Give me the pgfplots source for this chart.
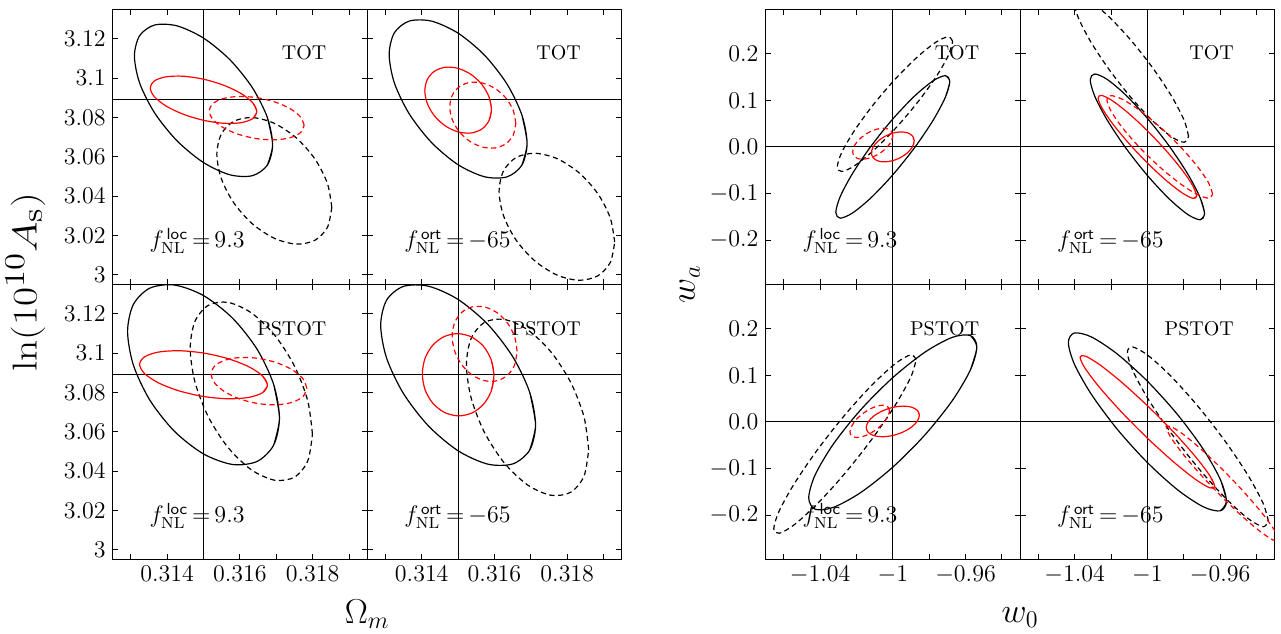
\documentclass[border=0pt]{standalone}
\usepackage{pgfplots}
\pgfplotsset{compat=1.18}
\definecolor{rd}{RGB}{255,0,0}
\pgfplotsset{
  panel/.style={scale only axis, width=127.3pt, height=137.5pt, anchor=south west,
    scaled ticks=false, major tick length=2.8pt,
    axis line style={line width=0.6pt},
    every tick/.style={black, line width=0.5pt},
    tick label style={font=\fontsize{12}{14}\selectfont}},
  lgrp/.style={panel, xmin=0.3125, xmax=0.3195, ymin=2.995, ymax=3.135,
    xtick={0.313,0.314,0.315,0.316,0.317,0.318,0.319},
    xticklabels={,$0.314$,,$0.316$,,$0.318$,},
    ytick={3,3.02,3.04,3.06,3.08,3.1,3.12},
    yticklabels={$3$,$3.02$,$3.04$,$3.06$,$3.08$,$3.1$,$3.12$}},
  rgrp/.style={panel, xmin=-1.07, xmax=-0.93, ymin=-0.295, ymax=0.295,
    xtick={-1.06,-1.04,-1.02,-1,-0.98,-0.96,-0.94},
    xticklabels={,$-1.04$,,$-1$,,$-0.96$,},
    ytick={-0.2,-0.1,0,0.1,0.2},
    yticklabels={$-0.2$,$-0.1$,$0.0$,$0.1$,$0.2$}},
  noxl/.style={xticklabels={}},
  noyl/.style={yticklabels={}},
  el/.style={smooth, line width=0.6pt, line join=round},
  bs/.style={el, black},
  bd/.style={el, black, dash pattern=on 2.6pt off 1.8pt},
  rs/.style={el, rd},
  rdd/.style={el, rd, dash pattern=on 2.6pt off 1.8pt},
  fid/.style={black, line width=0.5pt},
}
\newcommand{\ptext}[2]{%
  \node[anchor=base east, inner sep=0pt, font=\fontsize{10}{12}\selectfont] at (rel axis cs:0.841,0.816) {#1};
  \node[anchor=base west, inner sep=0pt, font=\fontsize{12}{14}\selectfont] at (rel axis cs:0.144,0.133) {#2};}
\newcommand{\floc}{$f_{\mathrm{NL}}^{\,\mathsf{loc}}\,{=}\,9.3$}
\newcommand{\fort}{$f_{\mathrm{NL}}^{\,\mathsf{ort}}\,{=}\,{-}65$}
\begin{document}
\begin{tikzpicture}
\path[use as bounding box] (0,0) rectangle (640.5pt,316.5pt);

% ---------------- left group: Omega_m vs ln(10^10 A_s) ----------------
\begin{axis}[lgrp, noxl, at={(56.3pt,174.3pt)}]
\addplot[fid] coordinates {(0.315,2.9)(0.315,3.2)};
\addplot[fid] coordinates {(0.31,3.089)(0.32,3.089)};
\addplot[bs] coordinates {(0.316755,3.05573)(0.3169,3.06614)(0.316755,3.07998)(0.316343,3.09515)(0.315727,3.10934)(0.315,3.12039)(0.314273,3.12661)(0.313657,3.12706)(0.313245,3.12167)(0.3131,3.11126)(0.313245,3.09742)(0.313657,3.08225)(0.314273,3.06806)(0.315,3.05701)(0.315727,3.05079)(0.316343,3.05034)(0.316755,3.05573)(0.3169,3.06614)(0.316755,3.07998)};
\addplot[bd] coordinates {(0.318526,3.03419)(0.318406,3.04642)(0.318063,3.05885)(0.317551,3.06959)(0.316946,3.077)(0.316341,3.07995)(0.315829,3.078)(0.315486,3.07144)(0.315366,3.06128)(0.315486,3.04904)(0.315829,3.03661)(0.316341,3.02587)(0.316946,3.01846)(0.317551,3.01551)(0.318063,3.01746)(0.318406,3.02402)(0.318526,3.03419)};
\addplot[rs] coordinates {(0.316354,3.07942)(0.316465,3.08296)(0.316354,3.08742)(0.316036,3.09213)(0.315561,3.09635)(0.315,3.09946)(0.314439,3.10098)(0.313964,3.10067)(0.313646,3.09858)(0.313535,3.09504)(0.313646,3.09058)(0.313964,3.08587)(0.314439,3.08165)(0.315,3.07854)(0.315561,3.07702)(0.316036,3.07733)(0.316354,3.07942)(0.316465,3.08296)(0.316354,3.08742)};
\addplot[rdd] coordinates {(0.317766,3.07599)(0.317667,3.08026)(0.317384,3.08444)(0.31696,3.08789)(0.316461,3.09008)(0.315962,3.09068)(0.315538,3.0896)(0.315255,3.08701)(0.315156,3.08329)(0.315255,3.07902)(0.315538,3.07484)(0.315962,3.07139)(0.316461,3.0692)(0.31696,3.0686)(0.317384,3.06968)(0.317667,3.07227)(0.317766,3.07599)};
\ptext{TOT}{\floc}
\end{axis}

\begin{axis}[lgrp, noxl, noyl, at={(183.6pt,174.3pt)}]
\addplot[fid] coordinates {(0.315,2.9)(0.315,3.2)};
\addplot[fid] coordinates {(0.31,3.089)(0.32,3.089)};
\addplot[bs] coordinates {(0.316752,3.05567)(0.316896,3.06677)(0.316752,3.0813)(0.316341,3.09708)(0.315726,3.11168)(0.315,3.12289)(0.314274,3.129)(0.313659,3.12908)(0.313248,3.12313)(0.313104,3.11204)(0.313248,3.0975)(0.313659,3.08172)(0.314274,3.06712)(0.315,3.05591)(0.315726,3.0498)(0.316341,3.04972)(0.316752,3.05567)(0.316896,3.06677)(0.316752,3.0813)};
\addplot[bd] coordinates {(0.319304,3.01649)(0.319183,3.02882)(0.318839,3.04124)(0.318323,3.05186)(0.317715,3.05907)(0.317107,3.06177)(0.316591,3.05954)(0.316247,3.05273)(0.316126,3.04237)(0.316247,3.03004)(0.316591,3.01762)(0.317107,3.007)(0.317715,2.99979)(0.318323,2.99709)(0.318839,2.99933)(0.319183,3.00614)(0.319304,3.01649)};
\addplot[rs] coordinates {(0.315846,3.07825)(0.315916,3.08408)(0.315846,3.09063)(0.315648,3.0969)(0.315351,3.10194)(0.315,3.10498)(0.314649,3.10555)(0.314352,3.10357)(0.314154,3.09935)(0.314084,3.09352)(0.314154,3.08697)(0.314352,3.0807)(0.314649,3.07566)(0.315,3.07262)(0.315351,3.07205)(0.315648,3.07403)(0.315846,3.07825)(0.315916,3.08408)(0.315846,3.09063)};
\addplot[rdd] coordinates {(0.316585,3.07696)(0.316516,3.08352)(0.316319,3.08973)(0.316025,3.09463)(0.315678,3.09748)(0.315331,3.09786)(0.315037,3.09569)(0.31484,3.09131)(0.314771,3.08538)(0.31484,3.07882)(0.315037,3.07261)(0.315331,3.06771)(0.315678,3.06486)(0.316025,3.06449)(0.316319,3.06666)(0.316516,3.07104)(0.316585,3.07696)};
\ptext{TOT}{\fort}
\end{axis}

\begin{axis}[lgrp, at={(56.3pt,36.8pt)}]
\addplot[fid] coordinates {(0.315,2.9)(0.315,3.2)};
\addplot[fid] coordinates {(0.31,3.089)(0.32,3.089)};
\addplot[bs] coordinates {(0.316929,3.0532)(0.317088,3.06694)(0.316929,3.08405)(0.316476,3.10191)(0.315799,3.1178)(0.315,3.12931)(0.314201,3.13468)(0.313524,3.1331)(0.313071,3.1248)(0.312912,3.11106)(0.313071,3.09395)(0.313524,3.07609)(0.314201,3.0602)(0.315,3.04869)(0.315799,3.04332)(0.316476,3.0449)(0.316929,3.0532)(0.317088,3.06694)(0.316929,3.08405)};
\addplot[bd] coordinates {(0.317994,3.05873)(0.317866,3.07567)(0.317502,3.09337)(0.316957,3.10912)(0.316314,3.12052)(0.315671,3.12585)(0.315126,3.12428)(0.314762,3.11606)(0.314634,3.10243)(0.314762,3.08549)(0.315126,3.06779)(0.315671,3.05204)(0.316314,3.04064)(0.316957,3.03531)(0.317502,3.03688)(0.317866,3.0451)(0.317994,3.05873)};
\addplot[rs] coordinates {(0.316624,3.0799)(0.316758,3.08373)(0.316624,3.08837)(0.316243,3.0931)(0.315673,3.0972)(0.315,3.10006)(0.314327,3.10123)(0.313757,3.10054)(0.313376,3.0981)(0.313242,3.09427)(0.313376,3.08964)(0.313757,3.08491)(0.314327,3.0808)(0.315,3.07794)(0.315673,3.07677)(0.316243,3.07746)(0.316624,3.0799)(0.316758,3.08373)(0.316624,3.08837)};
\addplot[rdd] coordinates {(0.317839,3.08215)(0.317739,3.08683)(0.317454,3.09136)(0.317028,3.09503)(0.316525,3.09729)(0.316022,3.0978)(0.315596,3.09648)(0.315311,3.09353)(0.315211,3.08939)(0.315311,3.08471)(0.315596,3.08018)(0.316022,3.07651)(0.316525,3.07425)(0.317028,3.07374)(0.317454,3.07506)(0.317739,3.07801)(0.317839,3.08215)};
\ptext{PSTOT}{\floc}
\end{axis}

\begin{axis}[lgrp, noyl, at={(183.6pt,36.8pt)}]
\addplot[fid] coordinates {(0.315,2.9)(0.315,3.2)};
\addplot[fid] coordinates {(0.31,3.089)(0.32,3.089)};
\addplot[bs] coordinates {(0.316967,3.05063)(0.317129,3.06343)(0.316967,3.08011)(0.316505,3.0981)(0.315815,3.11468)(0.315,3.12732)(0.314185,3.13409)(0.313495,3.13398)(0.313033,3.12697)(0.312871,3.11417)(0.313033,3.09749)(0.313495,3.0795)(0.314185,3.06292)(0.315,3.05028)(0.315815,3.04351)(0.316505,3.04363)(0.316967,3.05063)(0.317129,3.06343)(0.316967,3.08011)};
\addplot[bd] coordinates {(0.318589,3.0508)(0.318461,3.06756)(0.318097,3.08506)(0.317552,3.10063)(0.316909,3.11191)(0.316266,3.11717)(0.315721,3.11562)(0.315357,3.10749)(0.315229,3.09402)(0.315357,3.07726)(0.315721,3.05976)(0.316266,3.04419)(0.316909,3.03291)(0.317552,3.02765)(0.318097,3.0292)(0.318461,3.03733)(0.318589,3.0508)};
\addplot[rs] coordinates {(0.315909,3.08061)(0.315984,3.08858)(0.315909,3.09662)(0.315696,3.1035)(0.315377,3.10817)(0.315,3.10993)(0.314623,3.10849)(0.314304,3.10409)(0.314091,3.0974)(0.314016,3.08942)(0.314091,3.08138)(0.314304,3.0745)(0.314623,3.06983)(0.315,3.06807)(0.315377,3.06951)(0.315696,3.07391)(0.315909,3.08061)(0.315984,3.08858)(0.315909,3.09662)};
\addplot[rdd] coordinates {(0.316621,3.10091)(0.316553,3.10838)(0.316359,3.1153)(0.31607,3.12061)(0.315728,3.1235)(0.315386,3.12354)(0.315097,3.12072)(0.314903,3.11546)(0.314835,3.10857)(0.314903,3.1011)(0.315097,3.09418)(0.315386,3.08887)(0.315728,3.08598)(0.31607,3.08594)(0.316359,3.08877)(0.316553,3.09402)(0.316621,3.10091)};
\ptext{PSTOT}{\fort}
\end{axis}

% ---------------- right group: w0 vs wa ----------------
\begin{axis}[rgrp, noxl, at={(382.75pt,174.3pt)}]
\addplot[fid] coordinates {(-1,-0.4)(-1,0.4)};
\addplot[fid] coordinates {(-1.1,0)(-0.9,0)};
\addplot[bs] coordinates {(-0.971045,0.10703)(-0.96866,0.140668)(-0.971045,0.1529)(-0.97784,0.141845)(-0.988006,0.109201)(-1,0.059922)(-1.011994,0.001529)(-1.02216,-0.057093)(-1.028955,-0.10703)(-1.03134,-0.140668)(-1.028955,-0.1529)(-1.02216,-0.141845)(-1.011994,-0.109201)(-1,-0.059922)(-0.988006,-0.001529)(-0.97784,0.057093)(-0.971045,0.10703)(-0.96866,0.140668)(-0.971045,0.1529)};
\addplot[bd] coordinates {(-0.96709,0.226278)(-0.969503,0.236386)(-0.976378,0.224471)(-0.986665,0.192369)(-0.9988,0.144955)(-1.010935,0.089443)(-1.021222,0.034293)(-1.028097,-0.012095)(-1.03051,-0.042678)(-1.028097,-0.052786)(-1.021222,-0.040871)(-1.010935,-0.008769)(-0.9988,0.038645)(-0.986665,0.094157)(-0.976378,0.149307)(-0.969503,0.195695)(-0.96709,0.226278)};
\addplot[rs] coordinates {(-0.989135,0.000607)(-0.98824,0.012856)(-0.989135,0.02315)(-0.991684,0.029919)(-0.9955,0.032137)(-1,0.029456)(-1.0045,0.022296)(-1.008316,0.011738)(-1.010865,-0.000607)(-1.01176,-0.012856)(-1.010865,-0.02315)(-1.008316,-0.029919)(-1.0045,-0.032137)(-1,-0.029456)(-0.9955,-0.022296)(-0.991684,-0.011738)(-0.989135,0.000607)(-0.98824,0.012856)(-0.989135,0.02315)};
\addplot[rdd] coordinates {(-1.0,0.024059)(-1.000839,0.0336)(-1.00323,0.03906)(-1.006809,0.039608)(-1.01103,0.035158)(-1.015251,0.026391)(-1.01883,0.014638)(-1.021221,0.001692)(-1.02206,-0.010479)(-1.021221,-0.02002)(-1.01883,-0.02548)(-1.015251,-0.026028)(-1.01103,-0.021578)(-1.006809,-0.012811)(-1.00323,-0.001058)(-1.000839,0.011888)(-1.0,0.024059)};
\ptext{TOT}{\floc}
\end{axis}

\begin{axis}[rgrp, noxl, noyl, at={(510.05pt,174.3pt)}]
\addplot[fid] coordinates {(-1,-0.4)(-1,0.4)};
\addplot[fid] coordinates {(-1.1,0)(-0.9,0)};
\addplot[bs] coordinates {(-0.970962,-0.1564)(-0.96857,-0.143888)(-0.970962,-0.10948)(-0.977776,-0.0584)(-0.987972,0.001564)(-1,0.061293)(-1.012028,0.111701)(-1.022224,0.145092)(-1.029038,0.1564)(-1.03143,0.143888)(-1.029038,0.10948)(-1.022224,0.0584)(-1.012028,-0.001564)(-1,-0.061293)(-0.987972,-0.111701)(-0.977776,-0.145092)(-0.970962,-0.1564)(-0.96857,-0.143888)(-0.970962,-0.10948)};
\addplot[bd] coordinates {(-0.97739,0.022512)(-0.979782,0.05692)(-0.986596,0.108)(-0.996792,0.167964)(-1.00882,0.227693)(-1.020848,0.278101)(-1.031044,0.311492)(-1.037858,0.3228)(-1.04025,0.310288)(-1.037858,0.27588)(-1.031044,0.2248)(-1.020848,0.164836)(-1.00882,0.105107)(-0.996792,0.054699)(-0.986596,0.021308)(-0.979782,0.01)(-0.97739,0.022512)};
\addplot[rs] coordinates {(-0.974953,-0.11039)(-0.97289,-0.105165)(-0.974953,-0.083933)(-0.98083,-0.049926)(-0.989625,-0.008325)(-1,0.034561)(-1.010375,0.072176)(-1.01917,0.0988)(-1.025047,0.11039)(-1.02711,0.105165)(-1.025047,0.083933)(-1.01917,0.049926)(-1.010375,0.008325)(-1,-0.034561)(-0.989625,-0.072176)(-0.98083,-0.0988)(-0.974953,-0.11039)(-0.97289,-0.105165)(-0.974953,-0.083933)};
\addplot[rdd] coordinates {(-0.96416,-0.1012)(-0.96637,-0.077)(-0.972666,-0.041074)(-0.982086,0.0011)(-0.9932,0.043109)(-1.004314,0.078562)(-1.013734,0.102047)(-1.02003,0.11)(-1.02224,0.1012)(-1.02003,0.077)(-1.013734,0.041074)(-1.004314,-0.0011)(-0.9932,-0.043109)(-0.982086,-0.078562)(-0.972666,-0.102047)(-0.96637,-0.11)(-0.96416,-0.1012)};
\ptext{TOT}{\fort}
\end{axis}

\begin{axis}[rgrp, at={(382.75pt,36.8pt)}]
\addplot[fid] coordinates {(-1,-0.4)(-1,0.4)};
\addplot[fid] coordinates {(-1.1,0)(-0.9,0)};
\addplot[bs] coordinates {(-0.957288,0.111788)(-0.95377,0.160852)(-0.957288,0.185299)(-0.96731,0.181366)(-0.982308,0.149673)(-1,0.095038)(-1.017692,0.0258)(-1.03269,-0.047542)(-1.042712,-0.113788)(-1.04623,-0.162852)(-1.042712,-0.187299)(-1.03269,-0.183366)(-1.017692,-0.151673)(-1,-0.097038)(-0.982308,-0.0278)(-0.96731,0.045542)(-0.957288,0.111788)(-0.95377,0.160852)(-0.957288,0.185299)};
\addplot[bd] coordinates {(-0.98714,0.133751)(-0.99012,0.143974)(-0.998607,0.125024)(-1.011307,0.079817)(-1.02629,0.015238)(-1.041273,-0.058893)(-1.053973,-0.131297)(-1.06246,-0.190947)(-1.06544,-0.228751)(-1.06246,-0.238974)(-1.053973,-0.220024)(-1.041273,-0.174817)(-1.02629,-0.110238)(-1.011307,-0.036107)(-0.998607,0.036297)(-0.99012,0.095947)(-0.98714,0.133751)};
\addplot[rs] coordinates {(-0.986502,0.001621)(-0.98539,0.014144)(-0.986502,0.024669)(-0.989669,0.03159)(-0.994409,0.033857)(-1,0.031116)(-1.005591,0.023795)(-1.010331,0.013)(-1.013498,0.000379)(-1.01461,-0.012144)(-1.013498,-0.022669)(-1.010331,-0.02959)(-1.005591,-0.031857)(-1,-0.029116)(-0.994409,-0.021795)(-0.989669,-0.011)(-0.986502,0.001621)(-0.98539,0.014144)(-0.986502,0.024669)};
\addplot[rdd] coordinates {(-1.00183,0.023616)(-1.002656,0.031975)(-1.005008,0.035636)(-1.008528,0.034039)(-1.01268,0.027423)(-1.016832,0.016802)(-1.020352,0.003792)(-1.022704,-0.009628)(-1.02353,-0.021416)(-1.022704,-0.029775)(-1.020352,-0.033436)(-1.016832,-0.031839)(-1.01268,-0.025223)(-1.008528,-0.014602)(-1.005008,-0.001592)(-1.002656,0.011828)(-1.00183,0.023616)};
\ptext{PSTOT}{\floc}
\end{axis}

\begin{axis}[rgrp, noyl, at={(510.05pt,36.8pt)}]
\addplot[fid] coordinates {(-1,-0.4)(-1,0.4)};
\addplot[fid] coordinates {(-1.1,0)(-0.9,0)};
\addplot[bs] coordinates {(-0.959838,-0.190788)(-0.95653,-0.170346)(-0.959838,-0.123989)(-0.969262,-0.058741)(-0.983364,0.015446)(-1,0.087278)(-1.016636,0.145828)(-1.030738,0.182175)(-1.040162,0.190788)(-1.04347,0.170346)(-1.040162,0.123989)(-1.030738,0.058741)(-1.016636,-0.015446)(-1,-0.087278)(-0.983364,-0.145828)(-0.969262,-0.182175)(-0.959838,-0.190788)(-0.95653,-0.170346)(-0.959838,-0.123989)};
\addplot[bd] coordinates {(-0.93345,-0.213426)(-0.936402,-0.174441)(-0.944811,-0.113774)(-0.957395,-0.040684)(-0.97224,0.033717)(-0.987085,0.098088)(-0.999669,0.142648)(-1.008078,0.160626)(-1.01103,0.149226)(-1.008078,0.110241)(-0.999669,0.049574)(-0.987085,-0.023516)(-0.97224,-0.097917)(-0.957395,-0.162288)(-0.944811,-0.206848)(-0.936402,-0.224826)(-0.93345,-0.213426)};
\addplot[rs] coordinates {(-0.965779,-0.141357)(-0.96296,-0.138613)(-0.965779,-0.114777)(-0.973809,-0.073451)(-0.985825,-0.020949)(-1,0.034739)(-1.014175,0.08514)(-1.026191,0.12258)(-1.034221,0.141357)(-1.03704,0.138613)(-1.034221,0.114777)(-1.026191,0.073451)(-1.014175,0.020949)(-1,-0.034739)(-0.985825,-0.08514)(-0.973809,-0.12258)(-0.965779,-0.141357)(-0.96296,-0.138613)(-0.965779,-0.114777)};
\addplot[rdd] coordinates {(-0.92794,-0.251992)(-0.930283,-0.231376)(-0.936958,-0.19563)(-0.946947,-0.15022)(-0.95873,-0.102053)(-0.970513,-0.058459)(-0.980502,-0.026076)(-0.987177,-0.009835)(-0.98952,-0.012208)(-0.987177,-0.032824)(-0.980502,-0.06857)(-0.970513,-0.11398)(-0.95873,-0.162147)(-0.946947,-0.205741)(-0.936958,-0.238124)(-0.930283,-0.254365)(-0.92794,-0.251992)};
\ptext{PSTOT}{\fort}
\end{axis}

% axis labels
\node[rotate=90, anchor=base, font=\fontsize{19}{22}\selectfont] at (18.35pt,175.25pt) {\scalebox{1.2}[1]{$\ln(10^{10}A_{\mathrm{s}})$}};
\node[anchor=base, font=\fontsize{18}{20}\selectfont] at (183.6pt,4.8pt) {$\Omega_m$};
\node[rotate=90, anchor=base, font=\fontsize{18}{20}\selectfont] at (347.3pt,174.3pt) {$w_a$};
\node[anchor=base, font=\fontsize{18}{20}\selectfont] at (510.1pt,5.2pt) {$w_0$};
\end{tikzpicture}
\end{document}
